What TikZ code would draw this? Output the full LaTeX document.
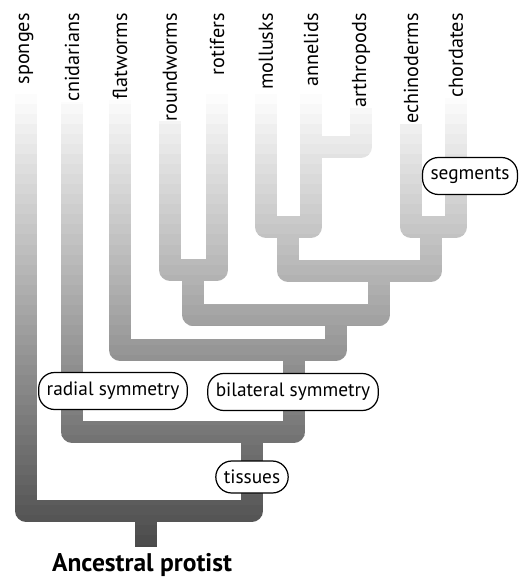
\documentclass[tikz,border=0pt]{standalone}
\usepackage{fontspec}
\setmainfont{PT Sans}
\usepackage{tikz}

\tikzstyle{branch} = [line width=4.3mm, line join=round]
\tikzstyle{trait} = [draw, line width=0.7pt, fill=white, rounded corners=3.2mm, minimum height=7.4mm, inner xsep=1.6mm, font=\fontsize{11}{13}\selectfont]
\tikzstyle{taxon} = [rotate=90, anchor=east, inner sep=0pt, font=\fontsize{11.5}{13}\selectfont]

% all the branches, leaves first, root last
\newcommand{\branches}{%
  \draw[branch] (roundworms.west) |- (rr) -| (rotifers.west);
  \draw[branch] (mollusks.west) |- (ma) -| (annelids.west);
  \draw[branch] (arthropods.west) |- (ar);
  \draw[branch] (echinoderms.west) |- (ec) -| (chordates.west);
  \draw[branch] (ma) |- (pe) -| (ec);
  \draw[branch] (rr) |- (bi) -| (pe);
  \draw[branch] (flatworms.west) |- (fl) -| (bi);
  \draw[branch] (cnidarians.west) |- (ti) -| (fl);
  \draw[branch] (sponges.west) |- (rt) -| (ti);
  \draw[branch] (rt) -- (root);
}

\begin{document}
\begin{tikzpicture}[x=0.2mm, y=-0.2mm]
\useasboundingbox (0,0) rectangle (521,577);

% leaves
\node[taxon] (sponges) at (26,13) {sponges};
\node[taxon] (cnidarians) at (72,13) {cnidarians};
\node[taxon] (flatworms) at (120,13) {flatworms};
\node[taxon] (roundworms) at (170,13) {roundworms};
\node[taxon] (rotifers) at (217,13) {rotifers};
\node[taxon] (mollusks) at (266,13) {mollusks};
\node[taxon] (annelids) at (311,13) {annelids};
\node[taxon] (arthropods) at (361,13) {arthropods};
\node[taxon] (echinoderms) at (411,13) {echinoderms};
\node[taxon] (chordates) at (456,13) {chordates};

% branch points
\coordinate (rr) at (193,270);
\coordinate (ma) at (288,227);
\coordinate (ar) at (311,147);
\coordinate (ec) at (431,227);
\coordinate (pe) at (379,271);
\coordinate (bi) at (336,315);
\coordinate (fl) at (294,350);
\coordinate (ti) at (252,432);
\coordinate (rt) at (146,511);
\coordinate (root) at (146,547);

% shade the tree in thin bands, light at the top, dark at the root
\foreach \i in {0,...,45} {
  \pgfmathsetmacro{\tone}{72*((\i+0.5)/46)^0.95}
  \begin{scope}[black!\tone]
    \clip (0,{95+10*\i}) rectangle (521,{105.5+10*\i});
    \branches
  \end{scope}
}

% traits
\node[trait] (segments) at (470,176) {segments};
\node[trait] (radial) at (113,391) {radial symmetry};
\node[trait] (bilateral) at (293,392) {bilateral symmetry};
\node[trait, minimum height=6.4mm] (tissues) at (252,477) {tissues};

\node[font=\bfseries\fontsize{14.5}{16}\selectfont] (protist) at (142,565) {Ancestral protist};

\end{tikzpicture}
\end{document}
